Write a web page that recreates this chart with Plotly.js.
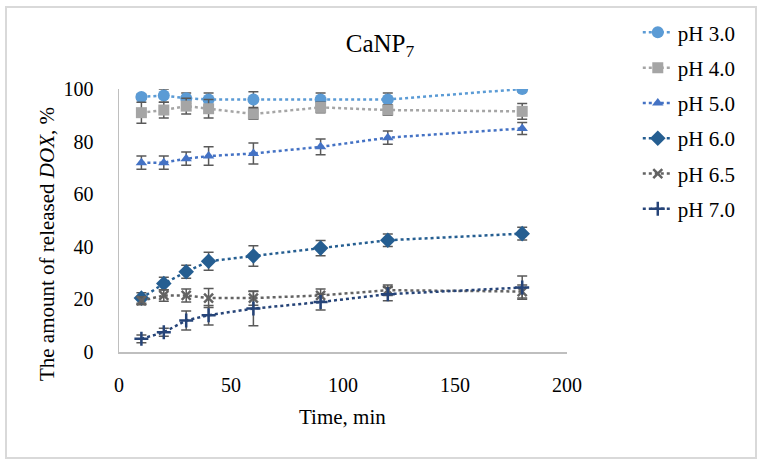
<!DOCTYPE html>
<html>
<head>
<meta charset="utf-8">
<script src="https://cdn.plot.ly/plotly-3.0.1.min.js"></script>
<style>
  html, body { margin: 0; padding: 0; background: #fff; }
  #wrap { position: relative; width: 763px; height: 466px; }
  #chart { width: 763px; height: 466px; }
  #frame { position: absolute; left: 5px; top: 6px; width: 748px; height: 449px;
           border: 2px solid #d9d9d9; pointer-events: none; }
</style>
</head>
<body>
<div id="wrap"><div id="chart"></div><div id="frame"></div></div>
<script>
const time = [10, 20, 30, 40, 60, 90, 120, 180];
const seriesNames = ['pH 3.0', 'pH 4.0', 'pH 5.0', 'pH 6.0', 'pH 6.5', 'pH 7.0'];

const ph30 = [97, 97.5, 96.5, 96, 96, 96, 96, 100];
const ph30Err = [1, 2.5, 2, 2.5, 3, 2.5, 2.5, 1];
const ph40 = [91, 92, 93.5, 92.5, 90.5, 93, 92, 91.5];
const ph40Err = [4, 3, 3, 3.5, 2, 2, 2, 3];
const ph50 = [72, 72, 73.5, 74.5, 75.5, 78, 81.5, 85];
const ph50Err = [2.5, 2.5, 2.5, 3.5, 4, 3, 2.5, 2.3];
const ph60 = [20.5, 26, 30.5, 34.5, 36.5, 39.5, 42.5, 45];
const ph60Err = [2, 2.4, 2.5, 3.4, 3.9, 2.9, 2.4, 2.4];
const ph65 = [19.5, 21.5, 21.5, 20.5, 20.5, 21.5, 23.5, 23];
const ph65Err = [1.5, 2.2, 2.5, 3.6, 2.7, 2.5, 2, 2.5];
const ph70 = [5, 7.5, 12, 14, 16.5, 19, 22, 24.5];
const ph70Err = [1.5, 1.5, 3.6, 3.7, 6.5, 3, 2.5, 4.4];

const values = [ph30, ph40, ph50, ph60, ph65, ph70];
const errors = [ph30Err, ph40Err, ph50Err, ph60Err, ph65Err, ph70Err];
const colors = ['#5B9BD5', '#A5A5A5', '#4472C4', '#255E91', '#636363', '#264478'];
const symbols = ['circle', 'square', 'triangle-up', 'diamond', 'x-thin', 'cross-thin'];
const sizes = [12, 11, 10, 12, 9, 10];

const FONT = 'Liberation Serif, Times New Roman, serif';

const traces = values.map((v, i) => {
  const thin = symbols[i].endsWith('-thin');
  return {
    x: time, y: v, name: seriesNames[i], type: 'scatter', mode: 'lines+markers',
    legendgroup: 'g' + i,
    line: { color: colors[i], width: 2.5, dash: 'dot' },
    marker: { symbol: symbols[i], size: sizes[i], color: colors[i],
              line: { color: colors[i], width: thin ? 2.5 : 0 } },
    error_y: { type: 'data', array: errors[i], visible: true,
               color: '#595959', thickness: 1.5, width: 5 }
  };
});

const layout = {
  width: 763, height: 466,
  margin: { l: 119, r: 196, t: 84, b: 114 },
  paper_bgcolor: '#ffffff', plot_bgcolor: '#ffffff',
  font: { family: FONT, size: 20, color: '#000' },
  title: { text: 'CaNP<sub>7</sub>', font: { family: FONT, size: 25, color: '#000' },
           xref: 'container', yref: 'container', x: 380 / 763, xanchor: 'center',
           y: 1 - 43 / 466, yanchor: 'middle' },
  showlegend: true,
  legend: { x: 1.158, xanchor: 'left', y: 1.292, yanchor: 'top',
            font: { family: FONT, size: 21, color: '#000' },
            traceorder: 'grouped', tracegroupgap: 5, bgcolor: 'rgba(0,0,0,0)' },
  xaxis: { range: [0, 200], tickvals: [0, 50, 100, 150, 200],
           showgrid: false, zeroline: false, showline: true,
           linecolor: '#bfbfbf', linewidth: 1.5,
           ticks: 'outside', ticklen: 14, tickcolor: 'rgba(0,0,0,0)',
           tickfont: { family: FONT, size: 20, color: '#000' } },
  yaxis: { range: [0, 100], tickvals: [0, 20, 40, 60, 80, 100],
           showgrid: false, zeroline: false, showline: true,
           linecolor: '#bfbfbf', linewidth: 1.5,
           ticks: 'outside', ticklen: 20, tickcolor: 'rgba(0,0,0,0)',
           tickfont: { family: FONT, size: 20, color: '#000' } },
  annotations: [
    { text: 'Time, min', xref: 'paper', yref: 'paper', x: (342 - 119) / 448, y: (352 - 418) / 268,
      xanchor: 'center', yanchor: 'middle', showarrow: false,
      font: { family: FONT, size: 21, color: '#000' } },
    { text: 'The amount of released <i>DOX</i>, %', xref: 'paper', yref: 'paper',
      x: (47 - 119) / 448, y: (352 - 242) / 268, textangle: -90,
      xanchor: 'center', yanchor: 'middle', showarrow: false,
      font: { family: FONT, size: 21, color: '#000' } }
  ]
};

Plotly.newPlot('chart', traces, layout, { displayModeBar: false, staticPlot: true });
</script>
</body>
</html>
